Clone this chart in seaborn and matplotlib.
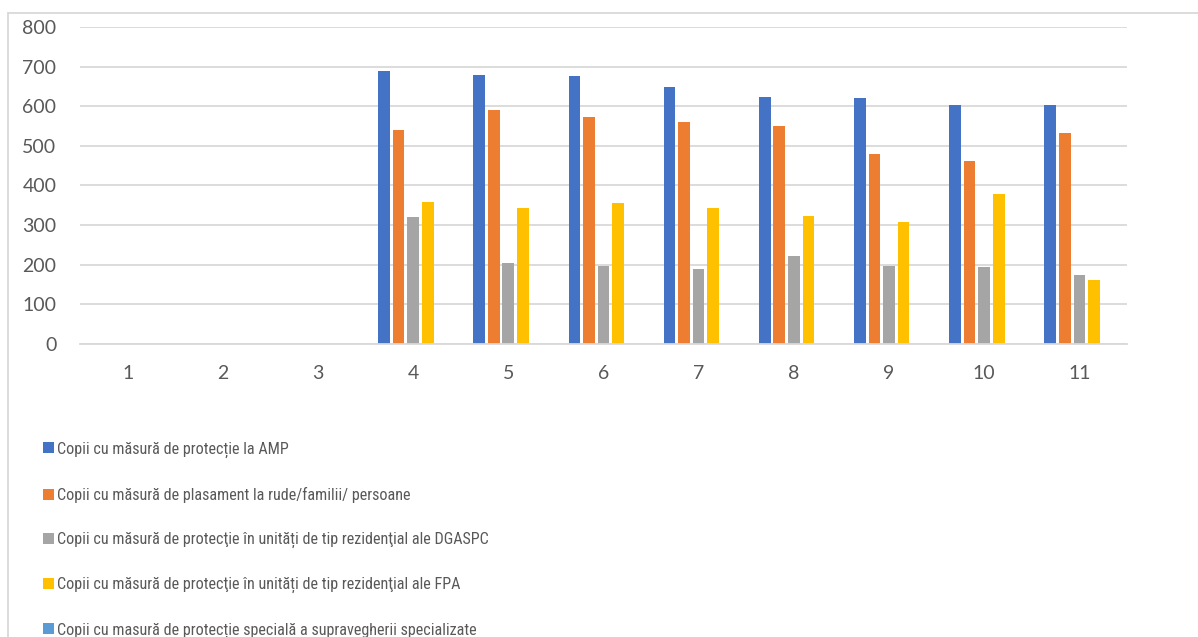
import numpy as np
import pandas as pd
import matplotlib
matplotlib.use("Agg")
import matplotlib.pyplot as plt
from matplotlib import font_manager
from matplotlib.lines import Line2D
import seaborn as sns

# ── data ─────────────────────────────────────────────────────────────────
categories = [str(i) for i in range(1, 12)]
series = [
    "Copii cu măsură de protecție la AMP",
    "Copii cu măsură de plasament la rude/familii/ persoane",
    "Copii cu măsură de protecţie în unități de tip rezidenţial ale DGASPC",
    "Copii cu măsură de protecţie în unități de tip rezidenţial ale FPA",
    "Copii cu masură de protecție specială a supravegherii specializate",
]
nan = np.nan
amp = [nan, nan, nan, 688, 680, 677, 649, 624, 620, 603, 603]
rude = [nan, nan, nan, 539, 591, 574, 561, 550, 479, 462, 532]
dgaspc = [nan, nan, nan, 320, 205, 198, 188, 221, 198, 195, 173]
fpa = [nan, nan, nan, 358, 342, 357, 343, 324, 308, 379, 161]
supraveghere = [nan, nan, nan, 0, 0, 0, 0, 0, 0, 0, 0]
colors = ["#4472C4", "#ED7D31", "#A5A5A5", "#FFC000", "#5B9BD5"]

rows = []
for name, vals in zip(series, [amp, rude, dgaspc, fpa, supraveghere]):
    for cat, v in zip(categories, vals):
        rows.append({"cat": cat, "serie": name, "val": v})
df = pd.DataFrame(rows)

# ── style ────────────────────────────────────────────────────────────────
sns.set_theme(style="white")
installed = {f.name for f in font_manager.fontManager.ttflist}
condensed = [f for f in ["Roboto Condensed", "Liberation Sans Narrow",
                         "DejaVu Sans Condensed"] if f in installed]
plt.rcParams["font.family"] = ["Lato", "DejaVu Sans"]
legend_font = condensed[:1] + ["Lato", "DejaVu Sans"]
legend_size = 11.6 if condensed else 10.5
txt = "#595959"
grid = "#D9D9D9"

fig = plt.figure(figsize=(11.98, 6.37), dpi=100)
ax = fig.add_axes([0.0668, 0.46, 0.8739, 0.4976])

sns.barplot(data=df, x="cat", y="val", hue="serie", order=categories,
            hue_order=series, palette=colors, saturation=1, width=0.765,
            gap=0.2, errorbar=None, linewidth=0, ax=ax)

ax.set_ylim(0, 800)
ax.set_yticks(range(0, 801, 100))
ax.set_xlim(-0.5, len(categories) - 0.5)
ax.yaxis.grid(True, color=grid, linewidth=1.3)
ax.set_axisbelow(True)
for s in ["top", "right", "left"]:
    ax.spines[s].set_visible(False)
ax.spines["bottom"].set_color(grid)
ax.spines["bottom"].set_linewidth(1.3)
ax.tick_params(axis="y", length=0, pad=17, labelsize=14, labelcolor=txt)
ax.tick_params(axis="x", length=0, pad=15, labelsize=14, labelcolor=txt)
ax.set_xlabel("")
ax.set_ylabel("")

handles, labels = ax.get_legend_handles_labels()
ax.get_legend().remove()
fig.legend(handles, labels, loc="upper left", bbox_to_anchor=(0.036, 0.307),
           frameon=False, prop={"family": legend_font, "size": legend_size},
           labelcolor=txt, handlelength=0.68, handleheight=0.68,
           handletextpad=0.2, labelspacing=1.8, borderpad=0, borderaxespad=0)

# chart area border (Excel style, bottom/right cut off)
fig.add_artist(Line2D([8 / 1198, 8 / 1198], [0, 1 - 13 / 637], color=grid,
                      linewidth=1.3, transform=fig.transFigure))
fig.add_artist(Line2D([8 / 1198, 1], [1 - 13 / 637, 1 - 13 / 637], color=grid,
                      linewidth=1.3, transform=fig.transFigure))

plt.savefig("out.png", dpi=100)
plt.close()
